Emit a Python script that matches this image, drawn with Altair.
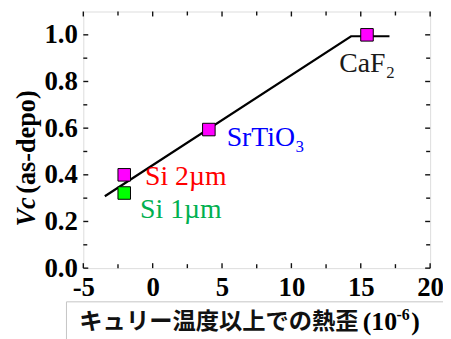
import altair as alt
import pandas as pd

# ---- data ----
line_x = [-3.45, 14.3, 17.07]
line_y = [0.308, 0.994, 0.994]

pt_name = ["Si 1µm", "Si 2µm", "SrTiO3", "CaF2"]
pt_x = [-2.05, -2.05, 4.05, 15.45]
pt_y = [0.322, 0.400, 0.594, 1.000]
pt_fill = ["#00FF00", "#FF00FF", "#FF00FF", "#FF00FF"]

label_text = ["Si 1µm", "Si 2µm", "SrTiO₃", "CaF₂"]
label_color = ["#00B050", "#FF0000", "#0000FF", "#1a1a1a"]

x_major = [-5, 0, 5, 10, 15, 20]
x_minor = [-2.5, 2.5, 7.5, 12.5, 17.5]
y_major = [0.0, 0.2, 0.4, 0.6, 0.8, 1.0]
y_minor = [0.1, 0.3, 0.5, 0.7, 0.9]

y_title_main = "Vc"
y_title_rest = "(as-depo)"
x_title_jp = "キュリー温度以上での熱歪"
x_title_unit = "(10"
x_title_sup = "-6"
x_title_close = ")"

W, H = 350, 259
SERIF = "'Liberation Serif', 'Times New Roman', Times, serif"

xs = alt.Scale(domain=[-5, 20], nice=False, zero=False)
ys = alt.Scale(domain=[0, 1.1], nice=False, zero=False)

axX = alt.Axis(values=x_major, title=None, grid=False, domain=False, ticks=False,
               tickSize=0, labelFont=SERIF, labelFontWeight="bold", labelFontSize=27,
               labelColor="black", labelPadding=7, labelFlush=False,
               labelExpr="replace(format(datum.value, 'd'), '\u2212', '-')")
axY = alt.Axis(values=y_major, title=None, grid=False, domain=False, ticks=False,
               tickSize=0, labelFont=SERIF, labelFontWeight="bold", labelFontSize=27,
               labelColor="black", labelPadding=6, format=".1f", labelFlush=False)

line_df = pd.DataFrame({"x": line_x, "y": line_y})
pt_df = pd.DataFrame({"name": pt_name, "x": pt_x, "y": pt_y, "fill": pt_fill})

X = lambda f="x": alt.X(f, type="quantitative", scale=xs, axis=axX)
Y = lambda f="y": alt.Y(f, type="quantitative", scale=ys, axis=axY)

layers = []

# ticks (inward, all four sides)
def xticks(vals, L):
    d = pd.DataFrame({"v": vals})
    bot = alt.Chart(d).mark_rule(color="#111", strokeWidth=1.4).encode(
        x=X("v"), y=alt.value(H), y2=alt.value(H - L))
    top = alt.Chart(d).mark_rule(color="#111", strokeWidth=1.4).encode(
        x=X("v"), y=alt.value(0), y2=alt.value(L))
    return [bot, top]

def yticks(vals, L):
    d = pd.DataFrame({"v": vals})
    lft = alt.Chart(d).mark_rule(color="#111", strokeWidth=1.4).encode(
        y=Y("v"), x=alt.value(0), x2=alt.value(L))
    rgt = alt.Chart(d).mark_rule(color="#111", strokeWidth=1.4).encode(
        y=Y("v"), x=alt.value(W), x2=alt.value(W - L))
    return [lft, rgt]

layers += xticks(x_major, 5) + xticks(x_minor, 4) + yticks(y_major, 5) + yticks(y_minor, 4)

line = alt.Chart(line_df).mark_line(color="black", strokeWidth=2.2).encode(x=X(), y=Y())
pts = alt.Chart(pt_df).mark_point(shape="square", filled=True, size=160, stroke="black",
                                  strokeWidth=1, opacity=1).encode(
    x=X(), y=Y(), fill=alt.Fill("fill:N", scale=None))
layers += [line, pts]

offsets = {0: (16, 25), 1: (21, 10), 2: (18, 17), 3: (-28, 38)}
for i in range(4):
    d = pt_df.iloc[[i]].assign(t=label_text[i])
    dx, dy = offsets[i]
    layers.append(alt.Chart(d).mark_text(font=SERIF, fontSize=28, color=label_color[i],
                                         align="left", baseline="alphabetic",
                                         dx=dx, dy=dy).encode(x=X(), y=Y(), text="t:N"))

one = pd.DataFrame({"t": [0]})

# y title
layers.append(alt.Chart(one).mark_text(text=y_title_main, font=SERIF, fontSize=26.5,
                                       fontWeight="bold", fontStyle="italic", angle=270,
                                       align="left", baseline="middle", color="black")
              .encode(x=alt.value(-57), y=alt.value(217)))
layers.append(alt.Chart(one).mark_text(text=y_title_rest, font=SERIF, fontSize=26.5,
                                       fontWeight="bold", angle=270,
                                       align="left", baseline="middle", color="black")
              .encode(x=alt.value(-57), y=alt.value(184)))

# x title box and text
layers.append(alt.Chart(one).mark_rect(fill=None, stroke="#c4c4c4", strokeWidth=1)
              .encode(x=alt.value(-17), x2=alt.value(420), y=alt.value(293), y2=alt.value(360)))
layers.append(alt.Chart(one).mark_text(text=x_title_jp, font="Noto Sans CJK JP", fontSize=23.5,
                                       fontWeight="bold", align="left", baseline="alphabetic",
                                       color="#111")
              .encode(x=alt.value(-4), y=alt.value(320)))
layers.append(alt.Chart(one).mark_text(text=x_title_unit, font=SERIF, fontSize=26,
                                       fontWeight="bold", align="left", baseline="alphabetic",
                                       color="black")
              .encode(x=alt.value(282), y=alt.value(321)))
layers.append(alt.Chart(one).mark_text(text=x_title_sup, font=SERIF, fontSize=16,
                                       fontWeight="bold", align="left", baseline="alphabetic",
                                       color="black")
              .encode(x=alt.value(316), y=alt.value(311)))
layers.append(alt.Chart(one).mark_text(text=x_title_close, font=SERIF, fontSize=26,
                                       fontWeight="bold", align="left", baseline="alphabetic",
                                       color="black")
              .encode(x=alt.value(331), y=alt.value(321)))

chart = alt.layer(*layers).properties(
    width=W, height=H, autosize="none",
    padding={"left": 76, "top": 2, "right": 13, "bottom": 72},
).configure_view(stroke="#222", strokeWidth=1.5).configure(background="white")

chart.save("out.html", embed_options={"renderer": "svg", "actions": False})
